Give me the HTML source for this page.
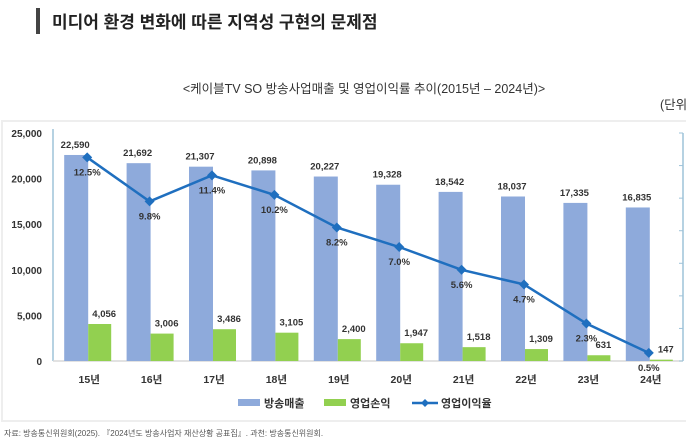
<!DOCTYPE html>
<html><head><meta charset="utf-8">
<style>
body{margin:0;width:686px;height:440px;background:#fff;overflow:hidden;font-family:"Liberation Sans","Noto Sans CJK KR",sans-serif;}
svg{position:absolute;left:0;top:0}
</style></head>
<body>
<svg id="c" width="686" height="440">
<rect x="36" y="8" width="4" height="26" fill="#444"/>
<text x="52" y="28" font-size="17" font-weight="bold" fill="#222" font-family="Liberation Sans,Noto Sans CJK KR,sans-serif">미디어 환경 변화에 따른 지역성 구현의 문제점</text>
<text x="364" y="93" text-anchor="middle" font-size="12.5" fill="#333" font-family="Liberation Sans,Noto Sans CJK KR,sans-serif">&lt;케이블TV SO 방송사업매출 및 영업이익률 추이(2015년 – 2024년)&gt;</text>
<text x="660" y="109" font-size="12.5" fill="#333" font-family="Liberation Sans,Noto Sans CJK KR,sans-serif">(단위</text>
<rect x="2" y="121" width="690" height="300" fill="#fff" stroke="#eee" stroke-width="2"/>
<g id="g"></g>
<text x="4" y="436" font-size="8" fill="#555" font-family="Liberation Sans,Noto Sans CJK KR,sans-serif">자료: 방송통신위원회(2025). 『2024년도 방송사업자 재산상황 공표집』. 과천: 방송통신위원회.</text>
</svg>
<script>
const categories=["15년","16년","17년","18년","19년","20년","21년","22년","23년","24년"];
const revenue=[22590,21692,21307,20898,20227,19328,18542,18037,17335,16835];
const profit=[4056,3006,3486,3105,2400,1947,1518,1309,631,147];
const margin=[12.5,9.8,11.4,10.2,8.2,7.0,5.6,4.7,2.3,0.5];
const leftTicks=[0,5000,10000,15000,20000,25000];
const rightTicks=[0,2,4,6,8,10,12,14];
const NS="http://www.w3.org/2000/svg";
const g=document.getElementById('g');
const F='Liberation Sans,Noto Sans CJK KR,sans-serif';
const y0=361,yTop=133;
const yL=v=>y0-(v/25000)*(y0-yTop);
const yR=v=>y0-(v/14)*(y0-yTop);
const step=62.4, xStart=56;
const xc=i=>xStart+step*(i+0.5);
function el(t,a,txt){const e=document.createElementNS(NS,t);for(const k in a)e.setAttribute(k,a[k]);if(txt!=null)e.textContent=txt;g.appendChild(e);return e;}
const fmt=v=>v.toLocaleString('en-US');
// axes
let e=el('line',{x1:53,y1:yTop-4,x2:53,y2:y0,stroke:'#9ec3d9','stroke-width':1.5});

e=el('line',{x1:53,y1:y0,x2:683,y2:y0,stroke:'#d9d9d9','stroke-width':1.5});

e=el('line',{x1:683,y1:yTop,x2:683,y2:y0,stroke:'#9ec3d9','stroke-width':1.5});

leftTicks.forEach(t=>{
 const x=el('text',{x:42,y:yL(t)+4,'text-anchor':'end','font-size':10,'font-weight':'bold',fill:'#333','font-family':F},fmt(t));
 
});
rightTicks.forEach(t=>{
 const x=el('line',{x1:679,y1:yR(t),x2:683,y2:yR(t),stroke:'#9ec3d9'});
 
});
categories.forEach((c,i)=>{
 const cx=xc(i);
 let b=el('rect',{x:cx-23,y:yL(revenue[i]),width:24,height:y0-yL(revenue[i]),fill:'#8eaadb'});
 
 b=el('rect',{x:cx+1,y:yL(profit[i]),width:23,height:y0-yL(profit[i]),fill:'#92d050'});
 
 let t=el('text',{x:cx-12,y:yL(revenue[i])-7,'text-anchor':'middle','font-size':9.5,'font-weight':'bold',fill:'#333','font-family':F},fmt(revenue[i]));
 
 t=el('text',{x:cx+17,y:yL(profit[i])-7,'text-anchor':'middle','font-size':9.5,'font-weight':'bold',fill:'#333','font-family':F},fmt(profit[i]));
 
 t=el('text',{x:cx+2,y:383,'text-anchor':'middle','font-size':10.5,'font-weight':'bold',fill:'#333','font-family':F},c);
 
});
const pts=margin.map((m,i)=>xc(i)+','+yR(m)).join(' ');
e=el('polyline',{points:pts,fill:'none',stroke:'#1f6fbf','stroke-width':2.5});

margin.forEach((m,i)=>{
 const cx=xc(i),cy=yR(m);
 const p=el('polygon',{points:`${cx},${cy-5} ${cx+5},${cy} ${cx},${cy+5} ${cx-5},${cy}`,fill:'#1f6fbf'});
 
 const t=el('text',{x:cx,y:cy+18,'text-anchor':'middle','font-size':9.5,'font-weight':'bold',fill:'#333','font-family':F},m.toFixed(1)+'%');
 
});
// legend
e=el('rect',{x:238,y:399,width:22,height:7,fill:'#8eaadb'});
e=el('text',{x:264,y:407,'font-size':11,'font-weight':'bold',fill:'#333','font-family':F},'방송매출');
e=el('rect',{x:324,y:399,width:22,height:7,fill:'#92d050'});
e=el('text',{x:350,y:407,'font-size':11,'font-weight':'bold',fill:'#333','font-family':F},'영업손익');
e=el('line',{x1:412,y1:403,x2:438,y2:403,stroke:'#1f6fbf','stroke-width':2.5});
e=el('polygon',{points:'425,399 429,403 425,407 421,403',fill:'#1f6fbf'});
e=el('text',{x:441,y:407,'font-size':11,'font-weight':'bold',fill:'#333','font-family':F},'영업이익율');
</script>
</body></html>
